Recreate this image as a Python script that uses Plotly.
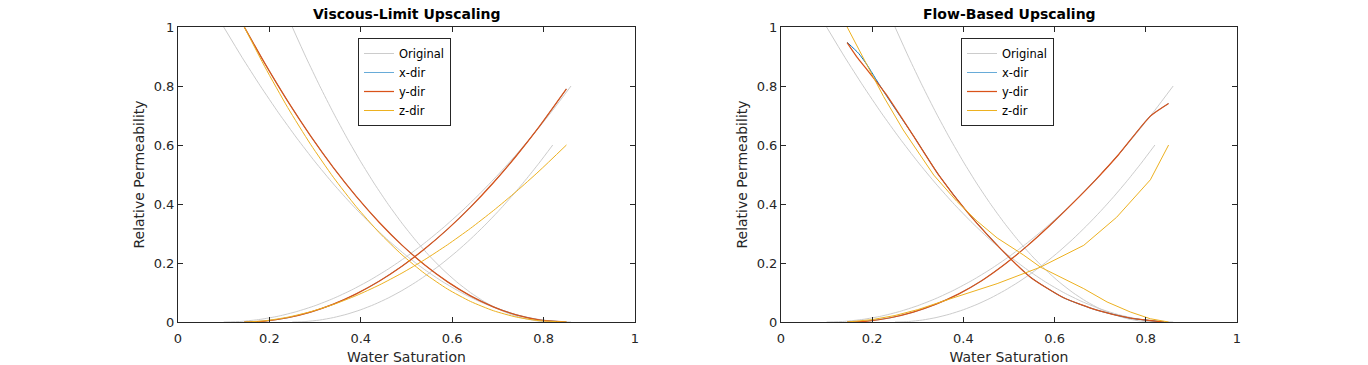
import plotly.graph_objects as go

# ---------------- data ----------------
tick_vals = [0, 0.2, 0.4, 0.6, 0.8, 1]
tick_labels = ["0", "0.2", "0.4", "0.6", "0.8", "1"]

# original fine-scale curves, rock type A
sw_orig_a = [0.10, 0.14, 0.18, 0.22, 0.26, 0.30, 0.34, 0.38, 0.42, 0.46,
             0.50, 0.54, 0.58, 0.62, 0.66, 0.70, 0.74, 0.78, 0.82, 0.86]
krw_orig_a = [0, 0.0022, 0.0089, 0.0199, 0.0355, 0.0554, 0.0798, 0.1086, 0.1418, 0.1795,
              0.2216, 0.2681, 0.3191, 0.3745, 0.4344, 0.4986, 0.5673, 0.6404, 0.7180, 0.8]
kro_orig_a = [1, 0.8975, 0.8006, 0.7091, 0.6233, 0.5429, 0.4681, 0.3989, 0.3352, 0.2770,
              0.2244, 0.1773, 0.1357, 0.0997, 0.0693, 0.0443, 0.0249, 0.0111, 0.0028, 0]
# original fine-scale curves, rock type B
sw_orig_b = [0.25, 0.28, 0.31, 0.34, 0.37, 0.40, 0.43, 0.46, 0.49, 0.52,
             0.55, 0.58, 0.61, 0.64, 0.67, 0.70, 0.73, 0.76, 0.79, 0.82]
krw_orig_b = [0, 0.0017, 0.0066, 0.0150, 0.0266, 0.0416, 0.0598, 0.0814, 0.1064, 0.1346,
              0.1662, 0.2011, 0.2393, 0.2809, 0.3258, 0.3740, 0.4255, 0.4803, 0.5385, 0.6]
kro_orig_b = [1, 0.8975, 0.8006, 0.7091, 0.6233, 0.5429, 0.4681, 0.3989, 0.3352, 0.2770,
              0.2244, 0.1773, 0.1357, 0.0997, 0.0693, 0.0443, 0.0249, 0.0111, 0.0028, 0]

# viscous-limit upscaling
sw_vl = [0.145, 0.19, 0.24, 0.29, 0.34, 0.39, 0.44, 0.49, 0.54, 0.59, 0.64, 0.69, 0.74, 0.79, 0.85]
krw_vl_x = [0, 0.0032, 0.0144, 0.0334, 0.0604, 0.0954, 0.1383, 0.1892, 0.2480, 0.3147,
            0.3894, 0.4720, 0.5627, 0.6613, 0.79]
kro_vl_x = [1, 0.8765, 0.7486, 0.6309, 0.5233, 0.4258, 0.3383, 0.2607, 0.1933, 0.1360,
            0.0887, 0.0515, 0.0243, 0.0072, 0]
krw_vl_y = [0, 0.0032, 0.0144, 0.0334, 0.0604, 0.0954, 0.1383, 0.1892, 0.2480, 0.3147,
            0.3894, 0.4720, 0.5627, 0.6613, 0.79]
kro_vl_y = [1, 0.8765, 0.7486, 0.6309, 0.5233, 0.4258, 0.3383, 0.2607, 0.1933, 0.1360,
            0.0887, 0.0515, 0.0243, 0.0072, 0]
krw_vl_z = [0, 0.0042, 0.0163, 0.0349, 0.0594, 0.0895, 0.1250, 0.1658, 0.2115, 0.2621,
            0.3174, 0.3775, 0.4421, 0.5113, 0.6]
kro_vl_z = [1, 0.8650, 0.7272, 0.6025, 0.4905, 0.3909, 0.3035, 0.2279, 0.1641, 0.1114,
            0.0697, 0.0383, 0.0168, 0.0044, 0]

# flow-based upscaling
sw_fb_w = [0.145, 0.19, 0.24, 0.29, 0.34, 0.39, 0.44, 0.49, 0.54, 0.59, 0.64, 0.69, 0.74, 0.81, 0.85]
krw_fb_x = [0, 0.0032, 0.0144, 0.0334, 0.0604, 0.0954, 0.140, 0.195, 0.258, 0.328,
            0.403, 0.482, 0.567, 0.698, 0.741]
krw_fb_y = [0, 0.0032, 0.0144, 0.0334, 0.0604, 0.0954, 0.140, 0.195, 0.258, 0.328,
            0.403, 0.482, 0.567, 0.698, 0.741]
sw_fb_o_x = [0.145, 0.170, 0.189, 0.207, 0.2325, 0.29, 0.346, 0.41, 0.485, 0.547, 0.62, 0.693, 0.766, 0.84]
kro_fb_x = [0.948, 0.911, 0.871, 0.826, 0.764, 0.632, 0.498, 0.37, 0.243, 0.152, 0.082, 0.040, 0.013, 0]
sw_fb_o_y = [0.145, 0.167, 0.189, 0.229, 0.29, 0.346, 0.41, 0.485, 0.547, 0.62, 0.693, 0.766, 0.84]
kro_fb_y = [0.947, 0.897, 0.855, 0.775, 0.632, 0.498, 0.37, 0.243, 0.152, 0.082, 0.040, 0.013, 0]
sw_fb_w_z = [0.145, 0.20, 0.25, 0.30, 0.37, 0.42, 0.474, 0.569, 0.664, 0.736, 0.81, 0.85]
krw_fb_z = [0, 0.008, 0.022, 0.042, 0.078, 0.102, 0.130, 0.186, 0.260, 0.355, 0.482, 0.6]
sw_fb_o_z = [0.145, 0.225, 0.268, 0.335, 0.385, 0.43, 0.474, 0.531, 0.569, 0.664, 0.715, 0.766, 0.81, 0.85]
kro_fb_z = [1.0, 0.764, 0.651, 0.498, 0.41, 0.342, 0.285, 0.228, 0.186, 0.113, 0.068, 0.034, 0.011, 0]

titles = ["Viscous-Limit Upscaling", "Flow-Based Upscaling"]
x_title = "Water Saturation"
y_title = "Relative Permeability"
names = ["Original", "x-dir", "y-dir", "z-dir"]

# ---------------- styling ----------------
GRAY = "#CCCCCC"
BLUE = "#0072BD"
RED = "#D95319"
YELLOW = "#EDB120"
AX = "#262626"
FONT = "DejaVu Sans"

fig = go.Figure()


def add(x, y, color, name, sub, show, spline=True, width=1.0):
    xa = "x" if sub == 1 else "x2"
    ya = "y" if sub == 1 else "y2"
    lg = "legend" if sub == 1 else "legend2"
    fig.add_trace(go.Scatter(
        x=x, y=y, mode="lines", name=name,
        line=dict(color=color, width=width, shape="spline" if spline else "linear", smoothing=0.6),
        legendgroup=name + str(sub), showlegend=show, legend=lg,
        xaxis=xa, yaxis=ya, hoverinfo="skip"))


for sub in (1, 2):
    add(sw_orig_a, krw_orig_a, GRAY, names[0], sub, True)
    add(sw_orig_a, kro_orig_a, GRAY, names[0], sub, False)
    add(sw_orig_b, krw_orig_b, GRAY, names[0], sub, False)
    add(sw_orig_b, kro_orig_b, GRAY, names[0], sub, False)

# viscous limit
add(sw_vl, krw_vl_x, BLUE, names[1], 1, True, width=0.6)
add(sw_vl, kro_vl_x, BLUE, names[1], 1, False, width=0.6)
add(sw_vl, krw_vl_y, RED, names[2], 1, True, width=1.25)
add(sw_vl, kro_vl_y, RED, names[2], 1, False, width=1.25)
add(sw_vl, krw_vl_z, YELLOW, names[3], 1, True)
add(sw_vl, kro_vl_z, YELLOW, names[3], 1, False)

# flow based
add(sw_fb_w, krw_fb_x, BLUE, names[1], 2, True, width=0.6)
add(sw_fb_o_x, kro_fb_x, BLUE, names[1], 2, False, width=1.0)
add(sw_fb_w, krw_fb_y, RED, names[2], 2, True, width=1.25)
add(sw_fb_o_y, kro_fb_y, RED, names[2], 2, False, width=1.25)
add(sw_fb_w_z, krw_fb_z, YELLOW, names[3], 2, True, spline=False)
add(sw_fb_o_z, kro_fb_z, YELLOW, names[3], 2, False, spline=False)

W, H = 1368, 365
ML, MR, MT, MB = 178, 131, 27, 43
PW = W - ML - MR

axis_common = dict(
    range=[0, 1], tickvals=tick_vals, ticktext=tick_labels,
    ticks="inside", ticklen=5, tickcolor=AX, tickwidth=1,
    showline=True, linecolor=AX, linewidth=1, mirror="ticks",
    showgrid=False, zeroline=False, automargin=False,
    tickfont=dict(family=FONT, size=13, color=AX),
)
xaxis_extra = dict(ticklabelstandoff=4,
                   title=dict(text=x_title, font=dict(size=14, color=AX), standoff=8))
yaxis_extra = dict(title=dict(text=y_title, font=dict(size=14, color=AX), standoff=5))

fig.update_layout(
    template="none",
    width=W, height=H,
    margin=dict(l=ML, r=MR, t=MT, b=MB, pad=0, autoexpand=False),
    paper_bgcolor="white", plot_bgcolor="white",
    font=dict(family=FONT, color=AX),
    xaxis=dict(domain=[0, 457 / PW], anchor="y", **xaxis_extra, **axis_common),
    yaxis=dict(domain=[0, 1], anchor="x", **yaxis_extra, **axis_common),
    xaxis2=dict(domain=[603 / PW, 1], anchor="y2", **xaxis_extra, **axis_common),
    yaxis2=dict(domain=[0, 1], anchor="x2", **yaxis_extra, **axis_common),
    legend=dict(x=(358 - ML) / PW, y=(322 - 38) / 295, xanchor="left", yanchor="top",
                bgcolor="white", bordercolor=AX, borderwidth=1,
                font=dict(family=FONT, size=11.5, color="black"), tracegroupgap=0),
    legend2=dict(x=(961 - ML) / PW, y=(322 - 38) / 295, xanchor="left", yanchor="top",
                 bgcolor="white", bordercolor=AX, borderwidth=1,
                 font=dict(family=FONT, size=11.5, color="black"), tracegroupgap=0),
    annotations=[
        dict(text="<b>" + titles[0] + "</b>", x=(406.5 - ML) / PW, y=(322 - 14) / 295,
             xref="paper", yref="paper", showarrow=False, xanchor="center", yanchor="middle",
             font=dict(family=FONT, size=14, color="black")),
        dict(text="<b>" + titles[1] + "</b>", x=(1009 - ML) / PW, y=(322 - 14) / 295,
             xref="paper", yref="paper", showarrow=False, xanchor="center", yanchor="middle",
             font=dict(family=FONT, size=14, color="black")),
    ],
    showlegend=True,
)

fig.write_html("out.html",
               config={"displayModeBar": False, "staticPlot": True},
               post_script="document.body.style.margin='0';document.body.style.overflow='hidden';")
